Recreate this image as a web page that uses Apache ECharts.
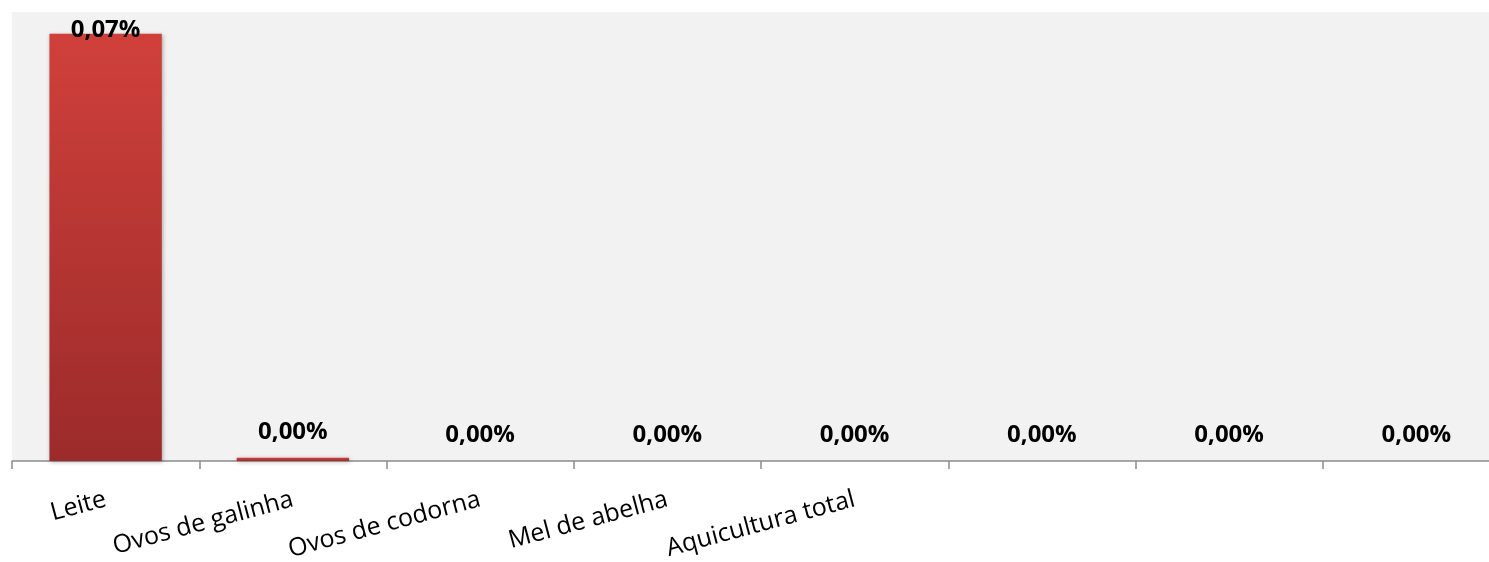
<!DOCTYPE html>
<html>
<head>
<meta charset="utf-8">
<script src="https://cdn.jsdelivr.net/npm/echarts@6/dist/echarts.min.js"></script>
<style>
html,body{margin:0;padding:0;background:#fff;}
#chart{width:1489px;height:562px;}
</style>
</head>
<body>
<div id="chart"></div>
<script>
const categories = ['Leite', 'Ovos de galinha', 'Ovos de codorna', 'Mel de abelha', 'Aquicultura total', '', '', ''];
const values = [0.0666, 0.0005, 0, 0, 0, 0, 0, 0];

const chart = echarts.init(document.getElementById('chart'));
const seriesData = values.map((v, i) => i === 0
  ? { value: v, label: { distance: -8 } }
  : { value: v });
chart.setOption({
  animation: false,
  backgroundColor: '#ffffff',
  grid: {
    left: 12, right: -21, top: 12, bottom: 101,
    outerBoundsMode: 'none', containLabel: false,
    show: true, backgroundColor: '#f2f2f2', borderWidth: 0
  },
  xAxis: {
    type: 'category',
    data: categories,
    axisLine: { show: true, lineStyle: { color: '#8c8c8c', width: 1.5 } },
    axisTick: { show: true, length: 8, alignWithLabel: false, lineStyle: { color: '#8c8c8c', width: 1.5 } },
    axisLabel: {
      interval: 0, rotate: 15, margin: 38,
      fontFamily: 'Open Sans', fontSize: 25, color: '#000'
    },
    splitLine: { show: false }
  },
  yAxis: {
    type: 'value', min: 0, max: 0.07,
    show: false
  },
  series: [{
    type: 'bar',
    data: seriesData,
    barWidth: '60%',
    itemStyle: {
      color: new echarts.graphic.LinearGradient(0, 0, 0, 1, [
        { offset: 0, color: '#d0403b' },
        { offset: 1, color: '#9b2b2a' }
      ]),
      shadowBlur: 4, shadowColor: 'rgba(0,0,0,0.3)', shadowOffsetX: 1, shadowOffsetY: 1
    },
    label: {
      show: true, position: 'top', distance: 14,
      fontFamily: 'Open Sans', fontSize: 24, fontWeight: 'bold', color: '#000',
      formatter: p => p.value.toFixed(2).replace('.', ',') + '%'
    }
  }]
});
</script>
</body>
</html>
